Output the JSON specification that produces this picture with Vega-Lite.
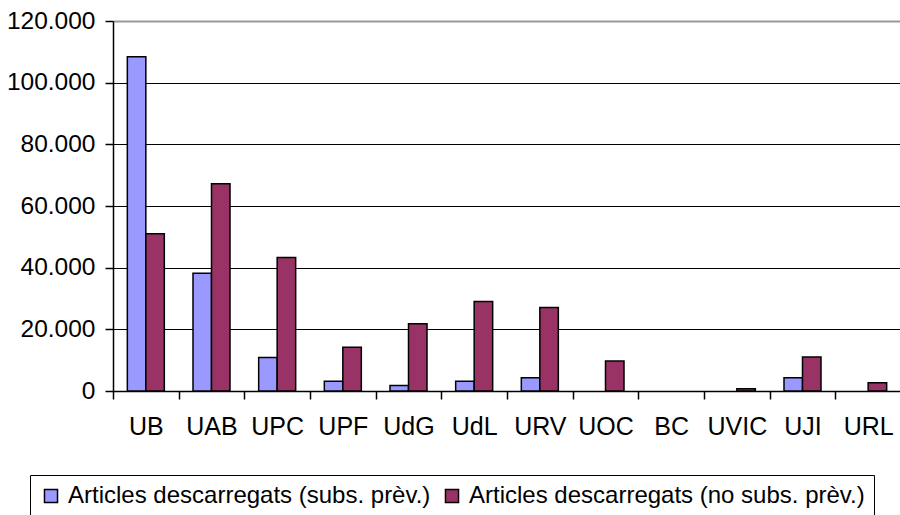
{
  "$schema": "https://vega.github.io/schema/vega-lite/v6.json",
  "autosize": {"type": "none"},
  "padding": {"left": 113, "top": 21, "right": 0, "bottom": 124},
  "width": 788,
  "height": 370,
  "background": "white",
  "config": {
    "view": {"stroke": null},
    "font": "Liberation Sans"
  },
  "data": {
    "values": [
      {"uni": "UB", "serie": "Articles descarregats (subs. prèv.)", "value": 108400},
      {"uni": "UB", "serie": "Articles descarregats (no subs. prèv.)", "value": 51000},
      {"uni": "UAB", "serie": "Articles descarregats (subs. prèv.)", "value": 38200},
      {"uni": "UAB", "serie": "Articles descarregats (no subs. prèv.)", "value": 67200},
      {"uni": "UPC", "serie": "Articles descarregats (subs. prèv.)", "value": 10900},
      {"uni": "UPC", "serie": "Articles descarregats (no subs. prèv.)", "value": 43300},
      {"uni": "UPF", "serie": "Articles descarregats (subs. prèv.)", "value": 3200},
      {"uni": "UPF", "serie": "Articles descarregats (no subs. prèv.)", "value": 14200},
      {"uni": "UdG", "serie": "Articles descarregats (subs. prèv.)", "value": 1800},
      {"uni": "UdG", "serie": "Articles descarregats (no subs. prèv.)", "value": 21800},
      {"uni": "UdL", "serie": "Articles descarregats (subs. prèv.)", "value": 3200},
      {"uni": "UdL", "serie": "Articles descarregats (no subs. prèv.)", "value": 29000},
      {"uni": "URV", "serie": "Articles descarregats (subs. prèv.)", "value": 4300},
      {"uni": "URV", "serie": "Articles descarregats (no subs. prèv.)", "value": 27100},
      {"uni": "UOC", "serie": "Articles descarregats (subs. prèv.)", "value": 0},
      {"uni": "UOC", "serie": "Articles descarregats (no subs. prèv.)", "value": 9700},
      {"uni": "BC", "serie": "Articles descarregats (subs. prèv.)", "value": 0},
      {"uni": "BC", "serie": "Articles descarregats (no subs. prèv.)", "value": 0},
      {"uni": "UVIC", "serie": "Articles descarregats (subs. prèv.)", "value": 0},
      {"uni": "UVIC", "serie": "Articles descarregats (no subs. prèv.)", "value": 700},
      {"uni": "UJI", "serie": "Articles descarregats (subs. prèv.)", "value": 4300},
      {"uni": "UJI", "serie": "Articles descarregats (no subs. prèv.)", "value": 11000},
      {"uni": "URL", "serie": "Articles descarregats (subs. prèv.)", "value": 0},
      {"uni": "URL", "serie": "Articles descarregats (no subs. prèv.)", "value": 2700}
    ]
  },
  "transform": [{"filter": "datum.value > 0"}],
  "mark": {"type": "bar", "stroke": "black", "strokeWidth": 1.5},
  "encoding": {
    "x": {
      "field": "uni",
      "type": "nominal",
      "sort": ["UB", "UAB", "UPC", "UPF", "UdG", "UdL", "URV", "UOC", "BC", "UVIC", "UJI", "URL"],
      "scale": {"domain": ["UB", "UAB", "UPC", "UPF", "UdG", "UdL", "URV", "UOC", "BC", "UVIC", "UJI", "URL"], "paddingInner": 0, "paddingOuter": 0},
      "axis": {
        "title": null,
        "labelAngle": 0,
        "labelFontSize": 25,
        "labelColor": "black",
        "labelPadding": 15,
        "tickSize": 8,
        "tickBand": "extent",
        "tickColor": "black",
        "tickWidth": 1.5,
        "domainColor": "black",
        "domainWidth": 1.5,
        "grid": false
      }
    },
    "xOffset": {
      "field": "serie",
      "type": "nominal",
      "sort": ["Articles descarregats (subs. prèv.)", "Articles descarregats (no subs. prèv.)"],
      "scale": {"domain": ["Articles descarregats (subs. prèv.)", "Articles descarregats (no subs. prèv.)"], "paddingInner": 0, "paddingOuter": 0.775}
    },
    "y": {
      "field": "value",
      "type": "quantitative",
      "scale": {"domain": [0, 120000], "nice": false},
      "axis": {
        "title": null,
        "values": [0, 20000, 40000, 60000, 80000, 100000, 120000],
        "labelExpr": "replace(format(datum.value, ','), ',', '.')",
        "labelFontSize": 24.5,
        "labelColor": "black",
        "labelPadding": 10,
        "tickSize": 8,
        "tickColor": "black",
        "tickWidth": 1.5,
        "domainColor": "black",
        "domainWidth": 1.5,
        "grid": true,
        "gridColor": {"condition": {"test": "datum.value === 120000", "value": "#999999"}, "value": "black"},
        "gridWidth": {"condition": {"test": "datum.value === 120000", "value": 2}, "value": 1}
      }
    },
    "color": {
      "field": "serie",
      "type": "nominal",
      "sort": ["Articles descarregats (subs. prèv.)", "Articles descarregats (no subs. prèv.)"],
      "scale": {
        "domain": ["Articles descarregats (subs. prèv.)", "Articles descarregats (no subs. prèv.)"],
        "range": ["#9999FF", "#993366"]
      },
      "legend": {
        "title": null,
        "orient": "none",
        "legendX": -83,
        "legendY": 454,
        "direction": "horizontal",
        "symbolType": "square",
        "symbolSize": 170,
        "symbolStrokeColor": "black",
        "symbolStrokeWidth": 1.5,
        "symbolOpacity": 1,
        "labelFontSize": 24,
        "labelColor": "black",
        "labelOffset": 5,
        "labelLimit": 0,
        "columnPadding": 9,
        "strokeColor": "black",
        "padding": 9,
        "fillColor": "white"
      }
    }
  }
}
